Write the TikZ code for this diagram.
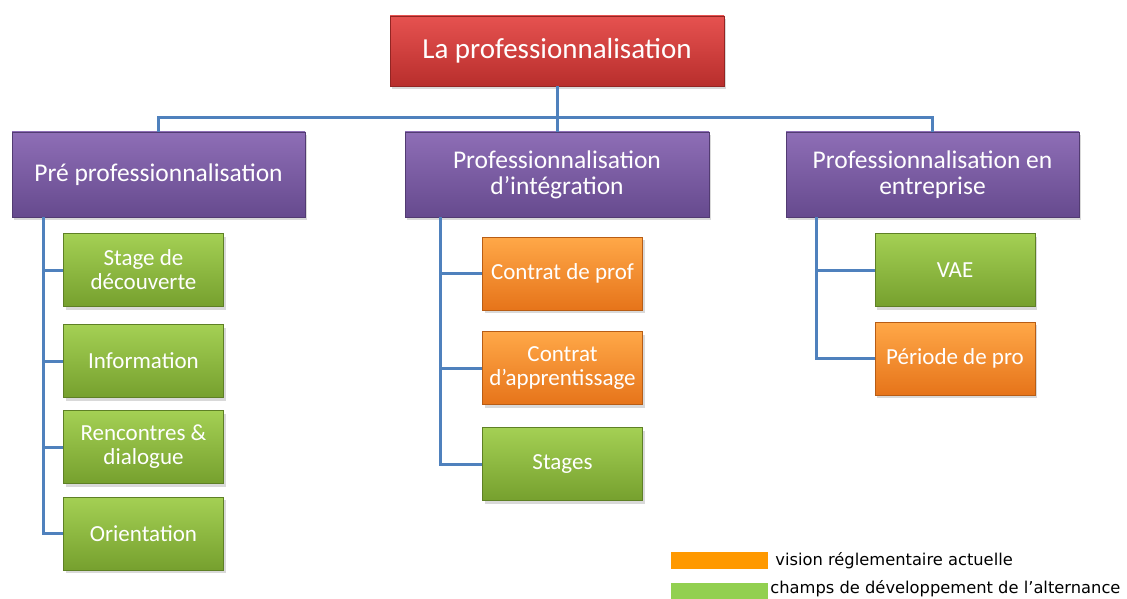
\documentclass[tikz,border=0pt]{standalone}
\usepackage{fontspec}
\setmainfont{Carlito}
\newfontfamily\legendfont{DejaVu Sans}
\usetikzlibrary{
    calc,
    shadows
}
\definecolor{linkblue}{RGB}{79,129,189}
\definecolor{redtop}{RGB}{230,82,80}
\definecolor{redbot}{RGB}{184,46,44}
\definecolor{purtop}{RGB}{142,110,182}
\definecolor{purbot}{RGB}{102,74,142}
\definecolor{grntop}{RGB}{164,208,84}
\definecolor{grnbot}{RGB}{118,160,46}
\definecolor{orgtop}{RGB}{255,168,72}
\definecolor{orgbot}{RGB}{230,116,26}
\definecolor{legorange}{RGB}{255,153,0}
\definecolor{leggreen}{RGB}{146,208,80}
\tikzset{
    every picture/.style = {
        x = 1pt,
        y = -1pt
    },
    box/.style = {
        rectangle,
        align = center,
        text = white,
        inner sep = 2pt,
        line width = 0.4pt,
        drop shadow = {shadow xshift = 2pt, shadow yshift = -3pt, opacity = 0.3}
    },
    rootbox/.style = {
        box,
        draw = redbot!80!black,
        top color = redtop,
        bottom color = redbot,
        minimum width = 334pt,
        minimum height = 70pt,
        font = \fontsize{29}{32}\selectfont
    },
    mainbox/.style = {
        box,
        draw = purbot!80!black,
        top color = purtop,
        bottom color = purbot,
        minimum width = 293pt,
        minimum height = 85pt,
        font = \fontsize{25.5}{26}\selectfont
    },
    childbox/.style = {
        box,
        minimum width = 160pt,
        minimum height = 73pt,
        font = \fontsize{23}{24}\selectfont
    },
    devbox/.style = {
        childbox,
        draw = grnbot!80!black,
        top color = grntop,
        bottom color = grnbot
    },
    regbox/.style = {
        childbox,
        draw = orgbot!80!black,
        top color = orgtop,
        bottom color = orgbot
    },
    link/.style = {
        draw = linkblue,
        line width = 3pt
    },
    legendkey/.style = {
        rectangle,
        minimum width = 97pt,
        minimum height = 17pt,
        inner sep = 0pt
    },
    legendtext/.style = {
        anchor = west,
        inner sep = 0pt,
        font = \legendfont\fontsize{16.3}{18}\selectfont
    }
}

\begin{document}
\begin{tikzpicture}
    \useasboundingbox (0,0) rectangle (1127,599);

    \coordinate (rootpt) at (557,51);
    \coordinate (prept) at (158.5,174.5);
    \coordinate (integpt) at (557,174.5);
    \coordinate (entpt) at (932.5,174.5);

    \node[rootbox] (root) at (rootpt) {La professionnalisation};
    \node[mainbox] (pre) at (prept) {Pré professionnalisation};
    \node[mainbox, minimum width = 304pt] (integ) at (integpt) {Professionnalisation\\d’intégration};
    \node[mainbox] (ent) at (entpt) {Professionnalisation en\\entreprise};

    % pré professionnalisation
    \node[devbox] (decouv) at (143.5,270) {Stage de\\découverte};
    \node[devbox] (info) at (143.5,361) {Information};
    \node[devbox] (renc) at (143.5,447) {Rencontres \&\\dialogue};
    \node[devbox] (orient) at (143.5,533.5) {Orientation};

    % intégration
    \node[regbox] (cprof) at (562.5,273.5) {Contrat de prof};
    \node[regbox] (capp) at (562.5,368) {Contrat\\d’apprentissage};
    \node[devbox] (stages) at (562.5,464) {Stages};

    % entreprise
    \node[devbox] (vae) at (955,270) {VAE};
    \node[regbox] (periode) at (955,358.5) {Période de pro};

    \draw[link] (root.south) -- (integ.north);
    \draw[link] (pre.north) -- ++(0,-14) -| (ent.north);

    \coordinate (preL) at ($(pre.south west)+(32,0)$);
    \coordinate (integL) at ($(integ.south west)+(36,0)$);
    \coordinate (entL) at ($(ent.south west)+(31,0)$);
    \foreach \c in {decouv, info, renc, orient}
        \draw[link] (preL) |- (\c.west);
    \foreach \c in {cprof, capp, stages}
        \draw[link] (integL) |- (\c.west);
    \foreach \c in {vae, periode}
        \draw[link] (entL) |- (\c.west);

    % legend
    \node[legendkey, fill = legorange] (keyreg) at (719.5,560.5) {};
    \node[legendtext] (txtreg) at ($(keyreg.east)+(7,0)$) {vision réglementaire actuelle};
    \node[legendkey, fill = leggreen] (keydev) at (719.5,591) {};
    \node[legendtext] (txtdev) at ($(keydev.east)+(2,-2)$) {champs de développement de l’alternance};
\end{tikzpicture}
\end{document}
